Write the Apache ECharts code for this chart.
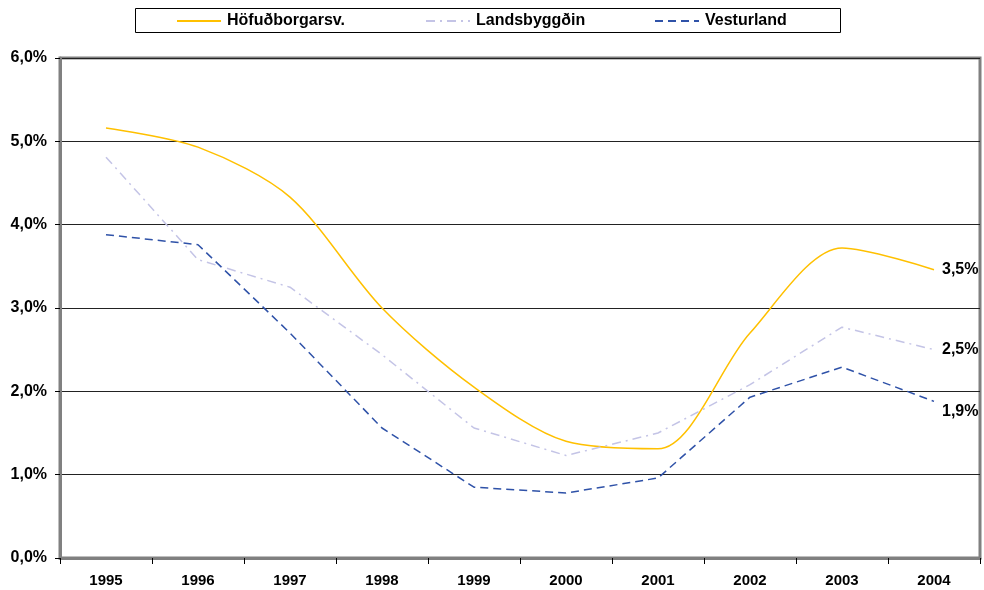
<!DOCTYPE html>
<html>
<head>
<meta charset="utf-8">
<script src="https://cdn.jsdelivr.net/npm/echarts@6/dist/echarts.min.js"></script>
<style>
  html, body { margin: 0; padding: 0; background: #fff; }
  #chart { width: 984px; height: 590px; }
</style>
</head>
<body>
<div id="chart"></div>
<script>
// gögn lesin af myndinni (%)
const years = ['1995', '1996', '1997', '1998', '1999', '2000', '2001', '2002', '2003', '2004']
const hofudborg = [5.16, 4.93, 4.33, 3.0, 2.05, 1.40, 1.31, 2.70, 3.72, 3.46]
const landsbyggd = [4.81, 3.58, 3.25, 2.44, 1.56, 1.23, 1.50, 2.08, 2.77, 2.50]
const vesturland = [3.88, 3.76, 2.70, 1.56, 0.85, 0.78, 0.96, 1.93, 2.29, 1.88]
const endLabels = ['3,5%', '2,5%', '1,9%']

const font = 'Liberation Sans, Arial, sans-serif'
const bold = { fontFamily: font, fontWeight: 'bold', fontSize: 16, color: '#000' }

let myChart = echarts.init(document.getElementById('chart'))

function legendItem(name, left) {
  return {
    data: [name],
    left: left,
    top: 13,
    itemWidth: 44,
    itemHeight: 14,
    itemGap: 0,
    padding: 0,
    itemStyle: { opacity: 0 },
    textStyle: Object.assign({}, bold, { padding: [0, 0, 0, 1] })
  }
}

myChart.setOption({
  animation: false,
  backgroundColor: '#fff',
  graphic: [{
    type: 'rect',
    shape: { x: 135.5, y: 8.5, width: 705, height: 24 },
    style: { fill: 'none', stroke: '#000', lineWidth: 1 }
  }],
  legend: [
    legendItem('Höfuðborgarsv.', 176),
    legendItem('Landsbyggðin', 425),
    legendItem('Vesturland', 654)
  ],
  grid: {
    left: 60, right: 4, top: 58, bottom: 32,
    show: true, borderColor: '#808080', borderWidth: 3
  },
  xAxis: {
    type: 'category',
    data: years,
    boundaryGap: true,
    axisLine: { lineStyle: { color: '#808080', width: 3 } },
    axisTick: { show: true, length: 6, lineStyle: { color: '#000', width: 1 } },
    axisLabel: Object.assign({ margin: 15 }, bold, { fontSize: 15 })
  },
  yAxis: {
    type: 'value',
    min: 0, max: 6, interval: 1,
    axisLine: { show: true, lineStyle: { color: '#808080', width: 3 } },
    axisTick: { show: true, length: 5, lineStyle: { color: '#000', width: 1 } },
    splitLine: { lineStyle: { color: '#222', width: 1 } },
    axisLabel: Object.assign({
      margin: 13,
      formatter: v => v.toFixed(1).replace('.', ',') + '%'
    }, bold)
  },
  series: [
    {
      name: 'Höfuðborgarsv.',
      type: 'line',
      data: hofudborg,
      smooth: 0.3,
      showSymbol: false,
      symbol: 'none',
      lineStyle: { color: '#FFC000', width: 1.5 },
      itemStyle: { color: '#FFC000' },
      endLabel: { show: true, formatter: endLabels[0], distance: 8, ...bold }
    },
    {
      name: 'Landsbyggðin',
      type: 'line',
      data: landsbyggd,
      showSymbol: false,
      symbol: 'none',
      lineStyle: { color: '#C4C4E6', width: 1.5, type: [9, 5, 2, 5] },
      itemStyle: { color: '#C4C4E6' },
      endLabel: { show: true, formatter: endLabels[1], distance: 8, ...bold }
    },
    {
      name: 'Vesturland',
      type: 'line',
      data: vesturland,
      showSymbol: false,
      symbol: 'none',
      lineStyle: { color: '#2F52A8', width: 1.5, type: [8, 5] },
      itemStyle: { color: '#2F52A8' },
      endLabel: { show: true, formatter: endLabels[2], distance: 8, offset: [0, 10], ...bold }
    }
  ]
})
</script>
</body>
</html>
